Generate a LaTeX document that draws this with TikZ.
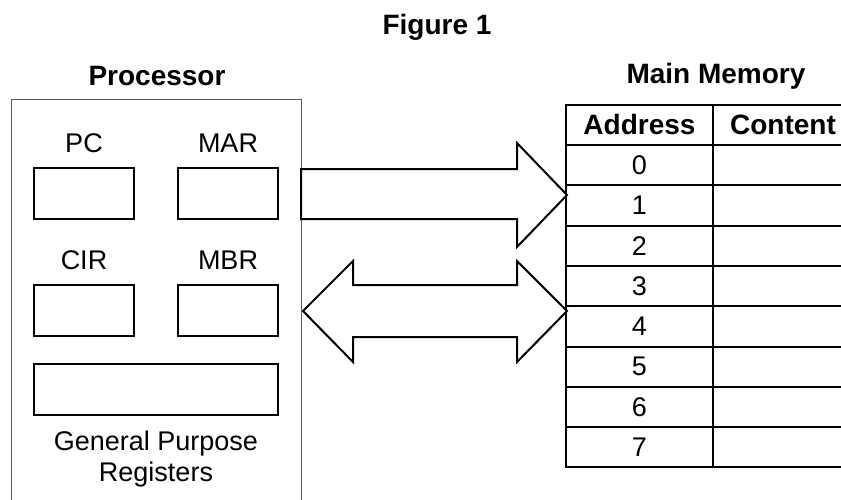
\documentclass[tikz,border=0pt]{standalone}
\usepackage{fontspec}
\setmainfont{Liberation Sans}
\usetikzlibrary{positioning}

\begin{document}
\begin{tikzpicture}[x=1pt, y=-1pt,
  font=\fontsize{27}{31}\selectfont,
  title/.style={font=\fontsize{28}{32}\selectfont\bfseries},
  reg/.style={draw, line width=2pt, minimum width=100pt, minimum height=51pt, outer sep=0pt},
  lbl/.style={inner sep=0pt},
  cell/.style={draw, line width=2pt, minimum width=147pt, minimum height=40.3pt, inner sep=0pt, outer sep=0pt},
  bus/.style={draw, line width=2pt, fill=white}]
\clip (0,0) rectangle (841,499);

% titulos
\node [title] (fig) at (437,27) {Figure 1};
\node [title] (proc) at (157,76) {Processor};
\node [title] (mem) at (716,76) {Main Memory};

% procesador
\node [draw=black!65, line width=1.2pt, minimum width=290pt, minimum height=440pt, anchor=north west] (cpu) at (11,99) {};
\node [reg] (pc) at (84,193.5) {};
\node [reg] (mar) at (228,193.5) {};
\node [reg] (cir) at (84,310.5) {};
\node [reg] (mbr) at (228,310.5) {};
\node [reg, minimum width=244pt] (gpr) at (156,389.5) {};
\node [lbl, above=15pt of pc] {PC};
\node [lbl, above=15pt of mar] {MAR};
\node [lbl, above=15pt of cir] {CIR};
\node [lbl, above=15pt of mbr] {MBR};
\node [lbl, below=16pt of gpr, align=center] (gprl) {General Purpose\\Registers};

% memoria
\node [cell, title] (addr) at (639.5,124.85) {Address};
\node [cell, title, minimum width=140pt, anchor=west] (cont) at (addr.east) {Content};
\foreach \i in {0,...,7} {
  \node [cell] (a\i) at (639.5,165.15+40.3*\i) {\i};
  \node [cell, minimum width=140pt, anchor=west] (c\i) at (a\i.east) {};
}

% buses
\draw [bus] (301,169) -- (517,169) -- (517,143) -- (567,195) -- (517,247) -- (517,219) -- (301,219) -- cycle;
\draw [bus] (303,311) -- (353,261) -- (353,285) -- (517,285) -- (517,261) -- (567,311)
  -- (517,362) -- (517,337) -- (353,337) -- (353,362) -- cycle;
\end{tikzpicture}
\end{document}
